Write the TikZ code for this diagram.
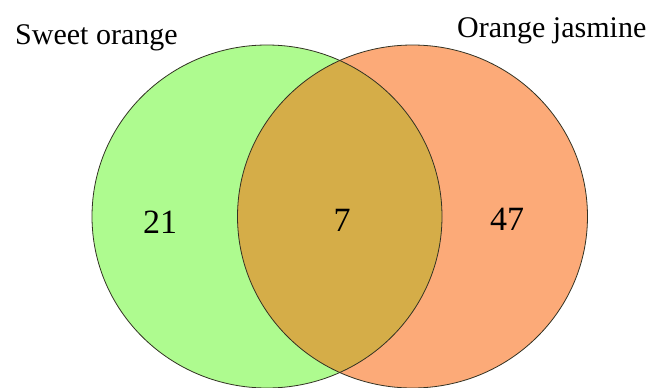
\documentclass[tikz,border=0pt]{standalone}
\usepackage{fontspec}
\setmainfont{Liberation Serif}
\definecolor{vgreen}{RGB}{174,251,143}
\definecolor{vorange}{RGB}{252,170,120}
\definecolor{vmix}{RGB}{213,173,72}
\definecolor{vline}{RGB}{50,50,35}
\tikzset{
  setlabel/.style={inner sep=0pt, anchor=base west, font=\fontsize{30}{36}\selectfont},
  count/.style={inner sep=0pt, anchor=center, font=\fontsize{34}{40}\selectfont},
  rim/.style={draw=vline, line width=0.8pt}
}
\begin{document}
\begin{tikzpicture}[x=1pt,y=-1pt]
\useasboundingbox (0,0) rectangle (651,388);
\fill[vgreen] (267,216.5) ellipse [x radius=175, y radius=171.5];
\fill[vorange] (412.5,216.5) ellipse [x radius=175, y radius=171.5];
\begin{scope}
  \clip (267,216.5) ellipse [x radius=175, y radius=171.5];
  \fill[vmix] (412.5,216.5) ellipse [x radius=175, y radius=171.5];
\end{scope}
\draw[rim] (267,216.5) ellipse [x radius=175, y radius=171.5];
\draw[rim] (412.5,216.5) ellipse [x radius=175, y radius=171.5];
\node[setlabel] (sweet) at (15,45) {Sweet orange};
\node[setlabel] (jasmine) at (457,37) {Orange jasmine};
\node[count] (left) at (160,222) {21};
\node[count] (mid) at (342,220) {7};
\node[count] (right) at (507,219) {47};
\end{tikzpicture}
\end{document}
